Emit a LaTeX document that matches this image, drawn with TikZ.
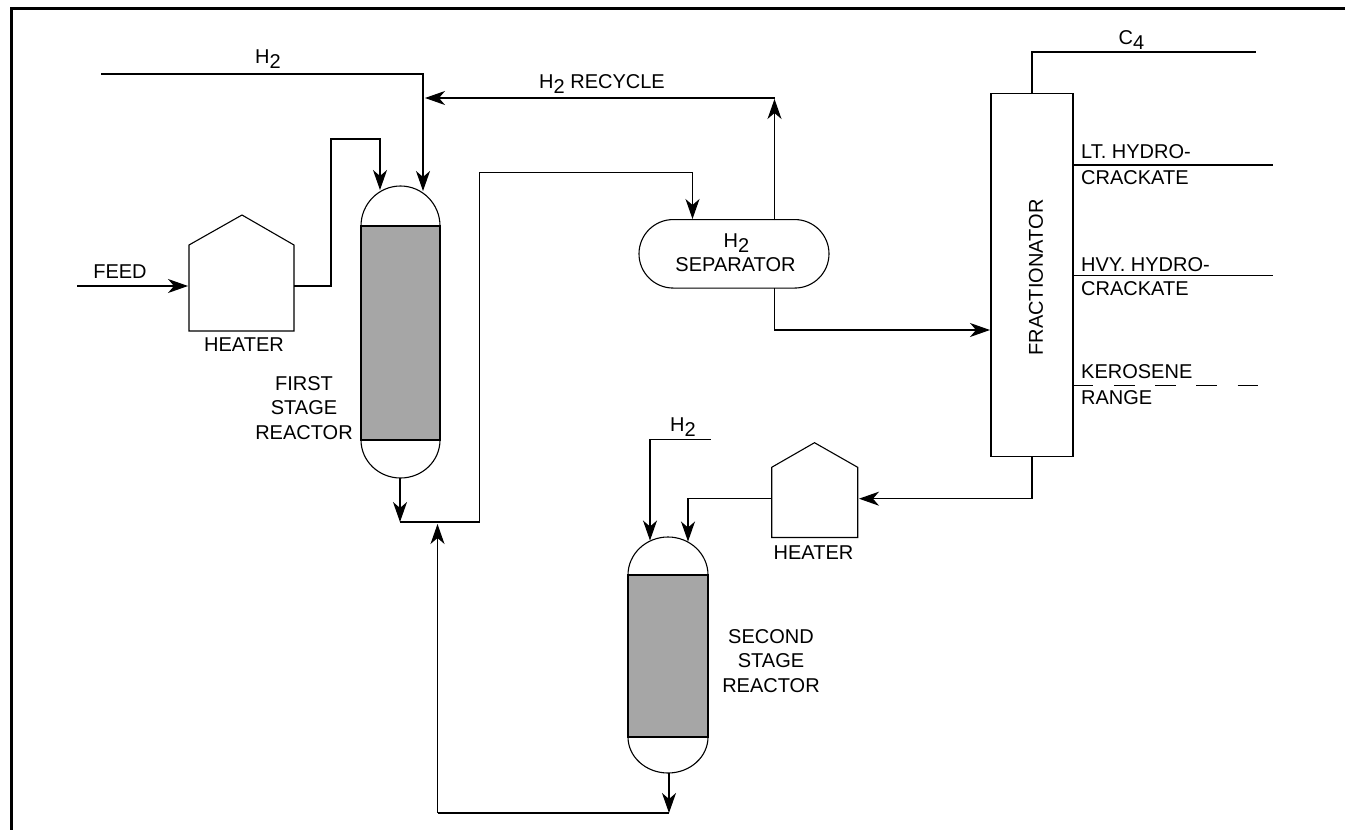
\documentclass[tikz,border=0pt]{standalone}
\usepackage{fontspec}
\setmainfont{Liberation Sans}
\usetikzlibrary{arrows.meta,shapes.misc,calc}
\tikzset{
  conn/.style={line width=1.1pt,-{Stealth[length=20pt,width=14pt,inset=6pt]},line join=miter},
  pipe/.style={line width=1.1pt,line join=miter},
  lbl/.style={inner sep=0pt,font=\fontsize{20}{24.5}\selectfont,align=center},
  lbll/.style={lbl,anchor=west,align=left},
  lblb/.style={lbl,anchor=base},
  vessel/.style={line width=1.1pt},
  bed/.style={fill=black!35,draw=black,line width=1.1pt},
}
\newcommand{\subs}[1]{\raisebox{-5.5pt}{#1}}
\begin{document}
\begin{tikzpicture}[x=1pt,y=-1pt]
\useasboundingbox (0,0) rectangle (1345,830);
% frame
\draw[line width=3pt] (11.3,830) -- (11.3,8.7) -- (1345,8.7);

% first reactor
\draw[vessel] (361,226) arc[start angle=180,end angle=360,x radius=39.5,y radius=40]
  -- (440,440) arc[start angle=0,end angle=180,x radius=39.5,y radius=38] -- cycle;
\node[bed,minimum width=79pt,minimum height=214pt,inner sep=0pt] (r1) at (400.5,333) {};
% second reactor
\draw[vessel] (628,575) arc[start angle=180,end angle=360,x radius=40,y radius=38]
  -- (708,737) arc[start angle=0,end angle=180,x radius=40,y radius=36] -- cycle;
\node[bed,minimum width=80pt,minimum height=162pt,inner sep=0pt] (r2) at (668,656) {};
% heaters
\draw[vessel] (189,331) -- (189,245) -- (242,215) -- (294,245) -- (294,331) -- cycle;
\draw[vessel] (771.7,537.5) -- (771.7,467.3) -- (814.5,442.7) -- (857.7,467.3) -- (857.7,537.5) -- cycle;
% separator
\node[draw,line width=1.1pt,rounded rectangle,minimum width=190pt,minimum height=68.5pt,inner sep=0pt] (sep) at (734,253.8) {};
% fractionator
\node[draw,line width=1.1pt,minimum width=82pt,minimum height=363pt,inner sep=0pt] (frac) at (1032,275) {};
\node[lbl,rotate=90] (fraclbl) at (1036,277.5) {FRACTIONATOR};

% free ends and junctions
\coordinate (feedin) at (77,286);
\coordinate (h1in) at (188,286);
\coordinate (h1out) at (294,286);
\coordinate (r1a) at (380,190);
\coordinate (r1b) at (423,191);
\coordinate (h2top) at (101,74);
\coordinate (rj) at (425,98);
\coordinate (sepup) at (774.5,220);
\coordinate (r1bot) at (400,478);
\coordinate (mix) at (400,522);
\coordinate (sepin) at (692.5,219);
\coordinate (sepdown) at (774.5,288);
\coordinate (fracin) at (990,330);
\coordinate (frtop) at (1032,94);
\coordinate (frbot) at (1032,456.5);
\coordinate (h2in) at (859,498.7);
\coordinate (h2out) at (771.7,498.7);
\coordinate (r2a) at (688,541.5);
\coordinate (r2b) at (650,540.5);
\coordinate (h2b) at (710.7,439.7);
\coordinate (r2bot) at (669,773);
\coordinate (low) at (669,813);
\coordinate (up) at (437.5,524);

% connectors
\draw[conn] (feedin) -- (h1in);
\draw[conn] (h1out) -- (331,286) -- (331,139) -- (380,139) -- (r1a);
\draw[conn] (h2top) -- (423,74) -- (r1b);
\draw[conn] (sepup) -- (774.5,99);
\draw[conn] (774.5,98) -- (rj);
\draw[conn] (r1bot) -- (mix);
\draw[pipe] (mix) -- (479.5,522) -- (479.5,172.7) -- (692.5,172.7);
\draw[conn] (692.5,172.7) -- (sepin);
\draw[conn] (sepdown) -- (774.5,330) -- (fracin);
\draw[pipe] (frtop) -- (1032,52) -- (1255.7,52);
\draw[pipe] (1072.7,165) -- (1272.7,165);
\draw[pipe] (1072.7,275.3) -- (1272.7,275.3);
\draw[pipe,dash pattern=on 20.6pt off 20.6pt] (1072.7,385.5) -- (1258,385.5);
\draw[conn] (frbot) -- (1032,498.7) -- (h2in);
\draw[conn] (h2out) -- (688,498.7) -- (r2a);
\draw[conn] (h2b) -- (650,439.7) -- (r2b);
\draw[conn] (r2bot) -- (low);
\draw[pipe] (low) -- (437.5,813);
\draw[conn] (437.5,813) -- (up);

% labels
\node[lblb] (lh2) at (268,63) {H\subs{2}};
\node[lblb] (lrec) at (602,88) {H\subs{2} RECYCLE};
\node[lbl] (lfeed) at (120,272) {FEED};
\node[lbl] (lh1) at (244,345) {HEATER};
\node[lbl] (lr1) at (304,408) {FIRST\\STAGE\\REACTOR};
\node[lblb] (ls1) at (736.5,247) {H\subs{2}};
\node[lbl] (ls2) at (735.5,265) {SEPARATOR};
\node[lblb] (lc4) at (1131.5,44) {C\subs{4}};
\node[lbll] (l1) at (1081,152) {LT. HYDRO-};
\node[lbll] (l2) at (1081,177.5) {CRACKATE};
\node[lbll] (l3) at (1081,264.5) {HVY. HYDRO-};
\node[lbll] (l4) at (1081,289) {CRACKATE};
\node[lbll] (l5) at (1081,371.5) {KEROSENE};
\node[lbll] (l6) at (1081,397.5) {RANGE};
\node[lblb] (lh2b) at (683,431) {H\subs{2}};
\node[lbl] (lh3) at (813.5,553) {HEATER};
\node[lbl] (lr2) at (771,661) {SECOND\\STAGE\\REACTOR};
\end{tikzpicture}
\end{document}
